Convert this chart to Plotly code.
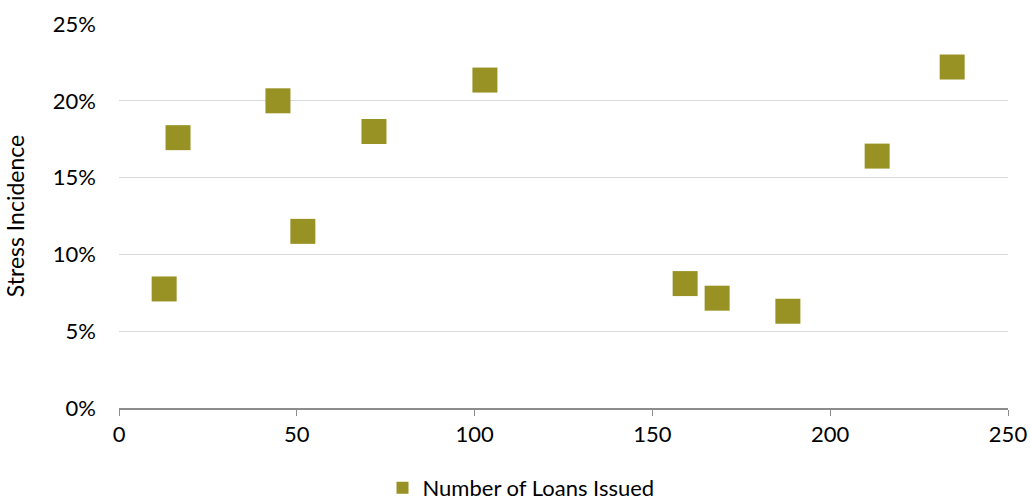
import plotly.graph_objects as go

# Loans issued vs. stress incidence (%)
loans_issued = [12.7, 16.6, 44.7, 51.7, 71.7, 102.9, 159.2, 168.2, 188.1, 213.2, 234.3]
stress_pct = [7.75, 17.6, 20.0, 11.5, 18.0, 21.35, 8.1, 7.15, 6.3, 16.4, 22.2]

series_name = "Number of Loans Issued"
y_ticks = [0, 5, 10, 15, 20, 25]
y_tick_labels = [f"{v}%" for v in y_ticks]
x_ticks = [0, 50, 100, 150, 200, 250]

fig = go.Figure(
    go.Scatter(
        x=loans_issued,
        y=stress_pct,
        mode="markers",
        name=series_name,
        marker=dict(symbol="square", size=25, color="#989224", line=dict(width=0)),
    )
)

font_family = "Source Sans Pro, Lato, Noto Sans, sans-serif"
plot_h = 504 - 24 - 96
plot_w = 1030 - 119 - 22

fig.update_layout(
    width=1030,
    height=504,
    margin=dict(l=119, r=22, t=24, b=96, autoexpand=False),
    paper_bgcolor="white",
    plot_bgcolor="white",
    font=dict(family=font_family, size=22, color="#000000"),
    showlegend=True,
    legend=dict(
        orientation="h",
        x=(521 - 119) / plot_w,
        xanchor="center",
        y=-(488 - 408) / plot_h,
        yanchor="middle",
        font=dict(size=22),
        itemsizing="constant",
        borderwidth=0,
    ),
    xaxis=dict(
        range=[0, 250],
        tickvals=x_ticks,
        showgrid=False,
        zeroline=False,
        showline=True,
        linecolor="#8c8c8c",
        linewidth=1.5,
        ticks="outside",
        ticklen=6,
        tickcolor="#8c8c8c",
        tickfont=dict(size=22),
        automargin=False,
    ),
    yaxis=dict(
        range=[0, 25],
        tickvals=y_ticks,
        ticktext=y_tick_labels,
        showgrid=True,
        gridcolor="#d9d9d9",
        gridwidth=1,
        zeroline=False,
        showline=False,
        ticks="",
        ticklabelstandoff=22,
        tickfont=dict(size=22),
        automargin=False,
        title=dict(text="Stress Incidence", font=dict(size=23), standoff=21),
    ),
)

fig.write_html("out.html")
